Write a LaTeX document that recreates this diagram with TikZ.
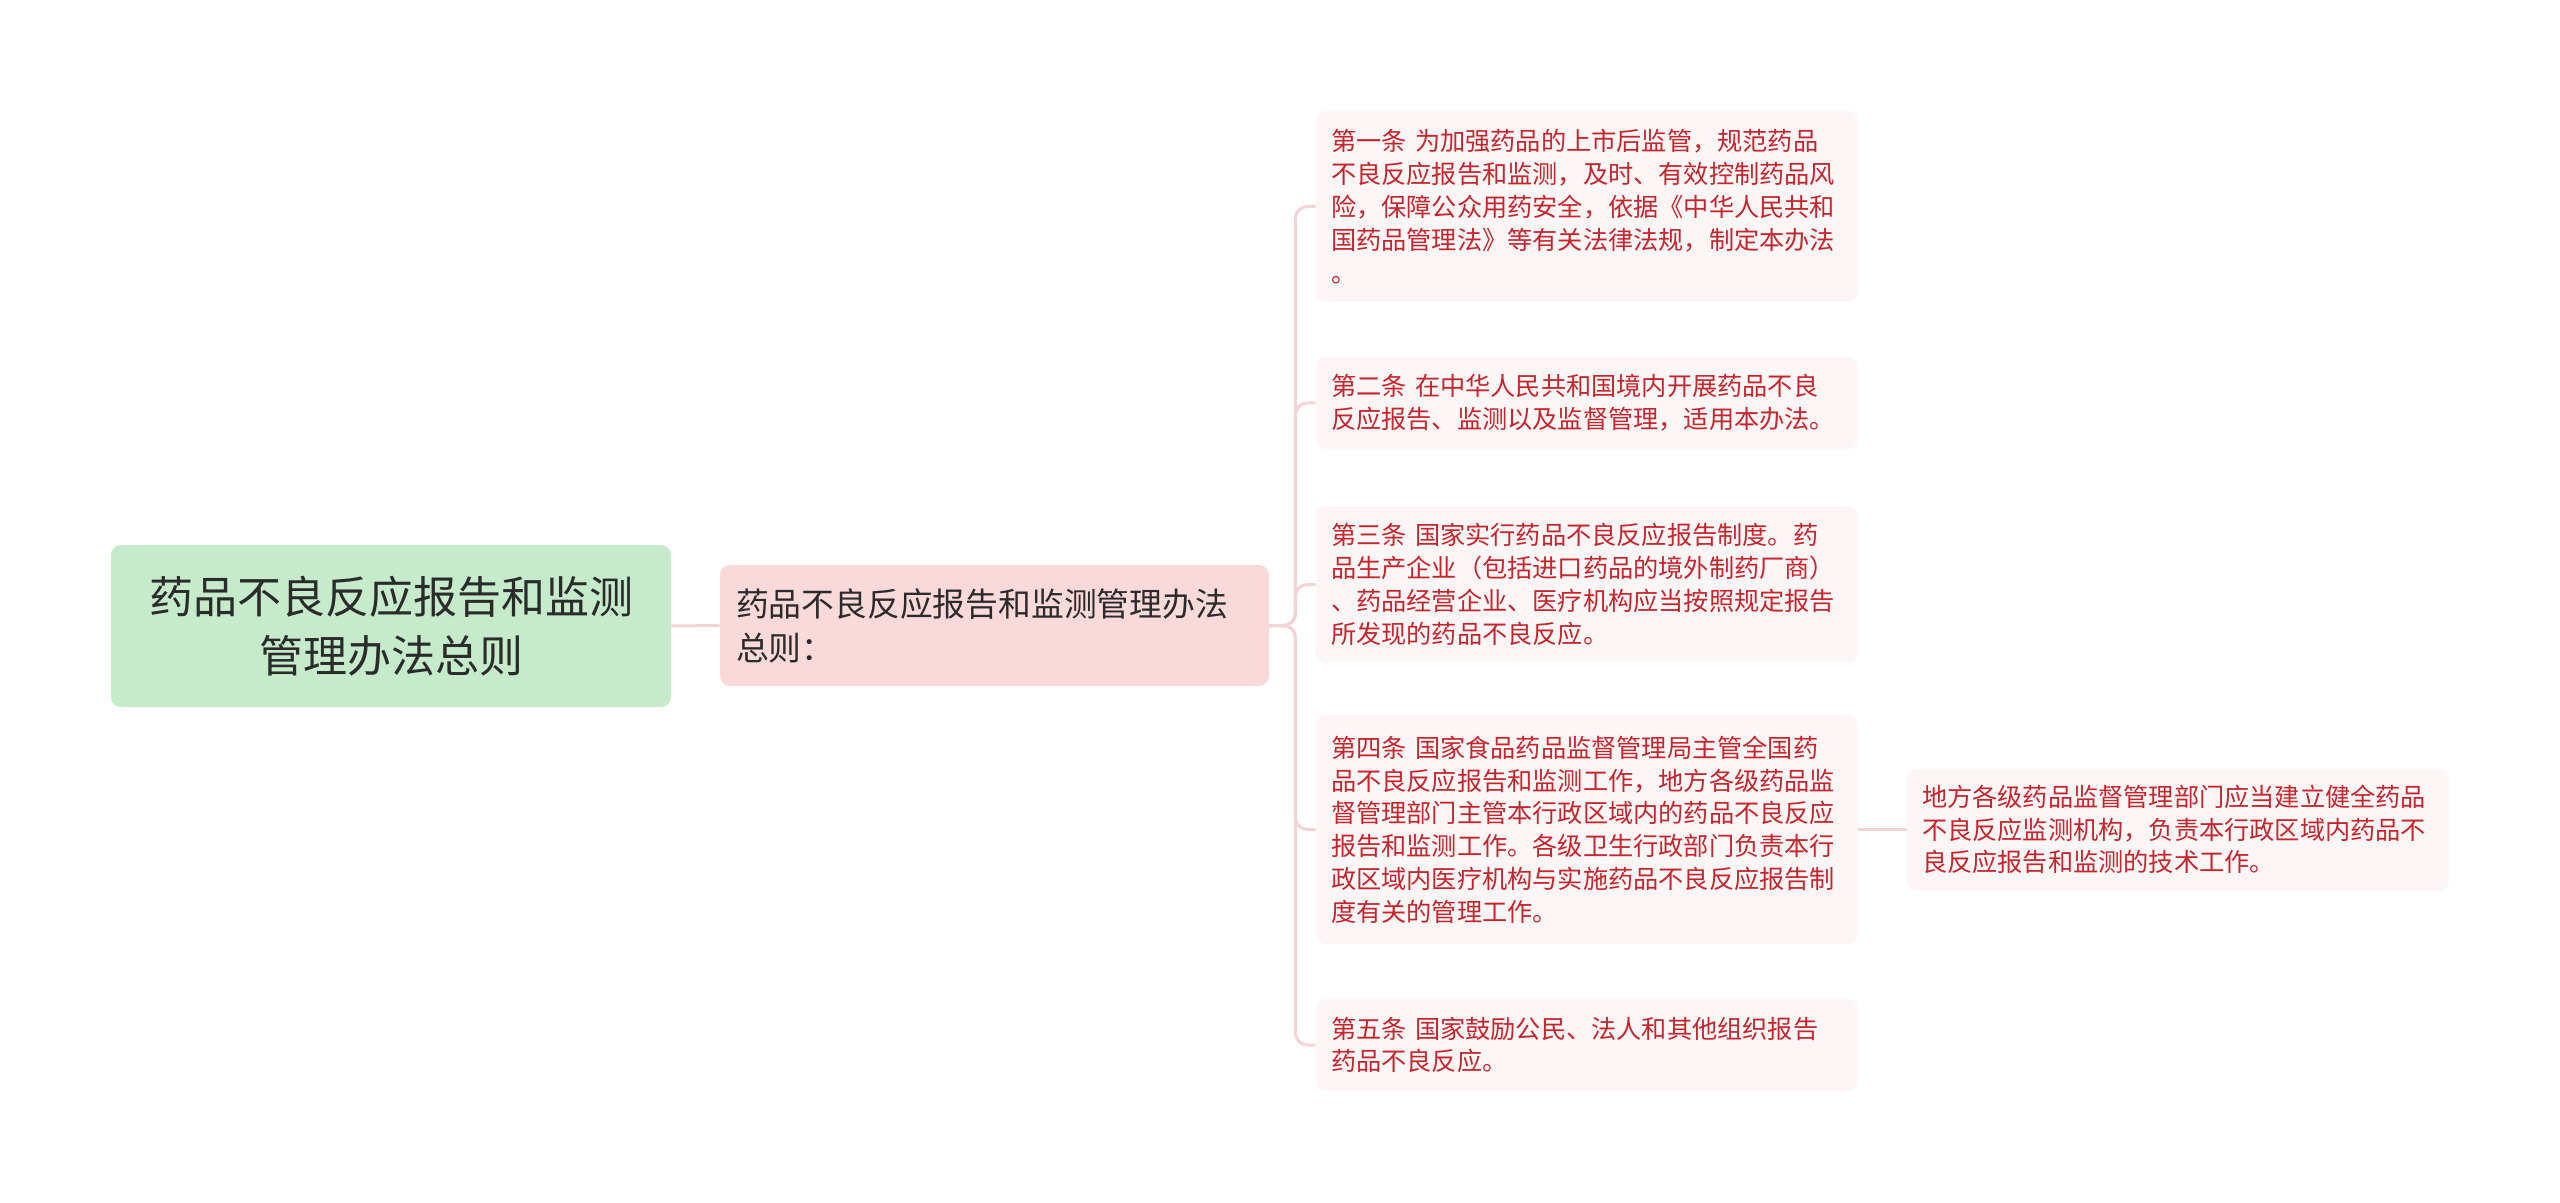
\documentclass[tikz,border=0pt]{standalone}
\usepackage{fontspec}
\setmainfont{Noto Sans CJK SC}
\definecolor{rootfill}{HTML}{C6EBCB}
\definecolor{mainfill}{HTML}{FAD9DB}
\definecolor{leaffill}{HTML}{FDF6F6}
\definecolor{leaftext}{HTML}{C4262E}
\definecolor{darktext}{HTML}{2B2B2B}
\definecolor{connc}{HTML}{F4D3D6}
\begin{document}
\begin{tikzpicture}[x=0.5pt,y=-0.5pt,
  conn/.style={draw=connc, line width=1.5pt, rounded corners=6pt},
  rootbox/.style={fill=rootfill, rounded corners=5pt, text=darktext, align=center,
    font=\fontsize{22pt}{29.4pt}\selectfont, minimum width=280pt, minimum height=81pt, inner sep=0pt},
  mainbox/.style={fill=mainfill, rounded corners=5pt, text=darktext, align=left,
    font=\fontsize{16.4pt}{22pt}\selectfont, text width=258.5pt, inner xsep=8pt, inner ysep=0pt,
    minimum height=60.5pt},
  leaf/.style={fill=leaffill, rounded corners=5pt, text=leaftext, align=left,
    font=\fontsize{12.6pt}{16.4pt}\selectfont, text width=256pt, inner xsep=7.5pt, inner ysep=0pt},
]
\useasboundingbox (0,0) rectangle (2560,1203);

\node[rootbox] (root) at (391,626) {药品不良反应报告和监测\\管理办法总则};
\node[mainbox] (main) at (994.5,625.5) {药品不良反应报告和监测管理办法\\总则：};

\node[leaf, minimum height=95.5pt] (c1) at (1587,206.5) {第一条 为加强药品的上市后监管，规范药品\\不良反应报告和监测，及时、有效控制药品风\\险，保障公众用药安全，依据《中华人民共和\\国药品管理法》等有关法律法规，制定本办法\\。};
\node[leaf, minimum height=46pt] (c2) at (1587,403) {第二条 在中华人民共和国境内开展药品不良\\反应报告、监测以及监督管理，适用本办法。};
\node[leaf, minimum height=78.5pt] (c3) at (1587,584.5) {第三条 国家实行药品不良反应报告制度。药\\品生产企业（包括进口药品的境外制药厂商）\\、药品经营企业、医疗机构应当按照规定报告\\所发现的药品不良反应。};
\node[leaf, minimum height=114.5pt] (c4) at (1587,829.5) {第四条 国家食品药品监督管理局主管全国药\\品不良反应报告和监测工作，地方各级药品监\\督管理部门主管本行政区域内的药品不良反应\\报告和监测工作。各级卫生行政部门负责本行\\政区域内医疗机构与实施药品不良反应报告制\\度有关的管理工作。};
\node[leaf, minimum height=46pt] (c5) at (1587,1045) {第五条 国家鼓励公民、法人和其他组织报告\\药品不良反应。};
\node[leaf, minimum height=61pt] (s4) at (2178,829.5) {地方各级药品监督管理部门应当建立健全药品\\不良反应监测机构，负责本行政区域内药品不\\良反应报告和监测的技术工作。};

\draw[conn] (root.east) -- (main.west);
\foreach \c in {c1,c2,c3,c4,c5}{
  \draw[conn] (main.east) -- ++(13pt,0) |- (\c.west);
}
\draw[conn] (c4.east) -- (s4.west);
\end{tikzpicture}
\end{document}
